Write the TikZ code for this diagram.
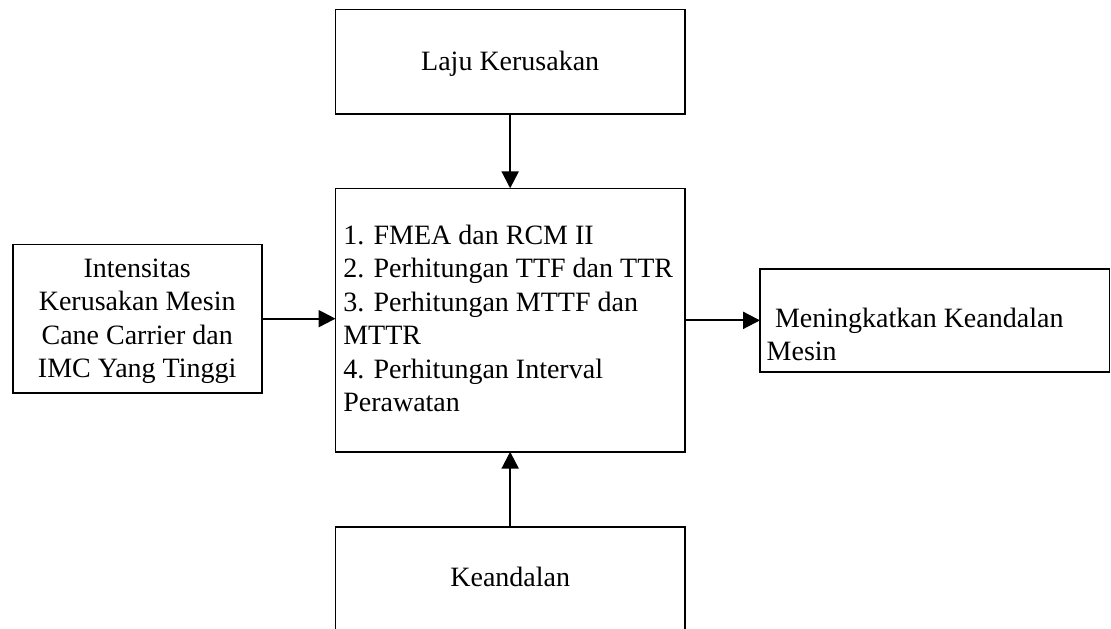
\documentclass[tikz,border=0pt]{standalone}
\usepackage{fontspec}
\setmainfont{Liberation Serif}
\usetikzlibrary{arrows.meta}
\begin{document}
\begin{tikzpicture}[x=0.5pt,y=-0.5pt,
  box/.style={draw=black, line width=0.8pt, inner sep=0pt, outer sep=0pt},
  txt/.style={inner sep=0pt, outer sep=0pt, font=\fontsize{14pt}{16.5pt}\selectfont},
  ctxt/.style={txt, anchor=base},
  ltxt/.style={txt, anchor=base west},
  conn/.style={line width=1.1pt, -{Triangle[width=8.5pt,length=8.5pt]}}]
\useasboundingbox (0,0) rectangle (1111,628);
\clip (0,0) rectangle (1111,628);
% boxes
\node[box, minimum width=174.65pt, minimum height=52.35pt] (top) at (510.15,61.7) {};
\node[box, minimum width=174.65pt, minimum height=131.7pt] (mid) at (510.15,320) {};
\node[box, minimum width=174.65pt, minimum height=66.5pt] (bot) at (510.15,593.5) {};
\node[box, minimum width=124.5pt, minimum height=74.35pt] (left) at (137.2,318.65) {};
\node[box, minimum width=174.65pt, minimum height=51.35pt] (right) at (934.65,320.35) {};
% texts
\node[ctxt] (ttop) at (510.2,70.7) {Laju Kerusakan};
\node[ctxt] (tbot) at (510.2,586.7) {Keandalan};
\node[ctxt] (tl1) at (137.2,277) {Intensitas};
\node[ctxt] (tl2) at (137.2,310.5) {Kerusakan Mesin};
\node[ctxt] (tl3) at (137.2,344) {Cane Carrier dan};
\node[ctxt] (tl4) at (137.2,377.5) {IMC Yang Tinggi};
\node[ltxt] (tm1) at (343.3,244.3) {1. FMEA dan RCM II};
\node[ltxt] (tm2) at (343.3,277.7) {2. Perhitungan TTF dan TTR};
\node[ltxt] (tm3) at (343.3,311) {3. Perhitungan MTTF dan};
\node[ltxt] (tm4) at (343.3,344.5) {MTTR};
\node[ltxt] (tm5) at (343.3,378) {4. Perhitungan Interval};
\node[ltxt] (tm6) at (343.3,411.5) {Perawatan};
\node[ltxt] (tr1) at (775,327.3) {Meningkatkan Keandalan};
\node[ltxt] (tr2) at (766.7,360) {Mesin};
% connectors
\draw[conn] (top.south) -- (mid.north);
\draw[conn] (bot.north) -- (mid.south);
\draw[conn] (left.east) -- (left.east -| mid.west);
\draw[conn] (mid.east |- right.west) -- (right.west);
\end{tikzpicture}
\end{document}
